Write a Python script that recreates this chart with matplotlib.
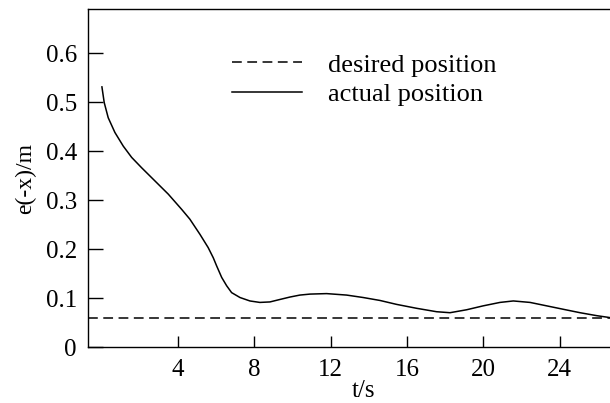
import matplotlib
matplotlib.use("Agg")
import matplotlib.pyplot as plt

# t/s and e(-x)/m
t_actual = [0.0, 0.12, 0.33, 0.68, 1.12, 1.56, 2.08, 2.78, 3.48, 4.18, 4.61,
            5.14, 5.57, 5.84, 6.01, 6.28, 6.54, 6.80, 7.24, 7.76, 8.28,
            8.81, 9.33, 9.86, 10.38, 10.91, 11.78, 12.83, 13.70, 14.58, 15.45,
            16.50, 17.55, 18.25, 19.12, 19.99, 20.87, 21.57, 22.45, 23.32,
            24.19, 25.07, 25.94, 26.64]
e_actual = [0.531, 0.499, 0.468, 0.438, 0.410, 0.387, 0.366, 0.339, 0.312,
            0.281, 0.261, 0.230, 0.203, 0.182, 0.166, 0.142, 0.125,
            0.111, 0.101, 0.094, 0.091, 0.092, 0.097, 0.102, 0.106, 0.108,
            0.109, 0.106, 0.101, 0.095, 0.087, 0.079, 0.072, 0.070, 0.076,
            0.084, 0.091, 0.094, 0.091, 0.084, 0.077, 0.070, 0.064, 0.060]
e_desired = 0.060

x_ticks = [4, 8, 12, 16, 20, 24]
y_ticks = [0, 0.1, 0.2, 0.3, 0.4, 0.5, 0.6]
y_tick_labels = ["0", "0.1", "0.2", "0.3", "0.4", "0.5", "0.6"]

plt.rcParams["font.family"] = ["Liberation Serif", "DejaVu Serif"]

W, H = 610, 403
fig = plt.figure(figsize=(W / 100, H / 100), dpi=100)
ax = fig.add_axes([88 / W, (H - 347) / H, (W - 88) / W, (347 - 9) / H])

ax.axhline(e_desired, color="black", linewidth=1.1, dashes=(6.4, 3.6),
           label="desired position")
ax.plot(t_actual, e_actual, color="black", linewidth=1.1,
        label="actual position")

ax.set_xlim(-0.73, 26.64)
ax.set_ylim(0, 0.69)
ax.set_xticks(x_ticks)
ax.set_xticklabels([str(v) for v in x_ticks])
ax.set_yticks(y_ticks)
ax.set_yticklabels(y_tick_labels)
ax.tick_params(axis="both", direction="in", labelsize=18, width=1.0)
ax.tick_params(axis="y", length=11, pad=8)
ax.tick_params(axis="x", length=8, pad=9)
ax.spines["right"].set_visible(False)
for side in ("left", "top", "bottom"):
    ax.spines[side].set_linewidth(1.0)

ax.set_xlabel("t/s", fontsize=18)
ax.xaxis.set_label_coords(0.527, -0.098)
ax.set_ylabel("e(-x)/m", fontsize=17)
ax.yaxis.set_label_coords(-0.099, 0.5)

ax.legend(loc="upper left", bbox_to_anchor=(232 / W, 0.868),
          bbox_transform=fig.transFigure, frameon=False, fontsize=19,
          handlelength=2.65, handletextpad=0.98, labelspacing=0.22,
          borderpad=0, borderaxespad=0)

fig.savefig("out.png", dpi=100)
